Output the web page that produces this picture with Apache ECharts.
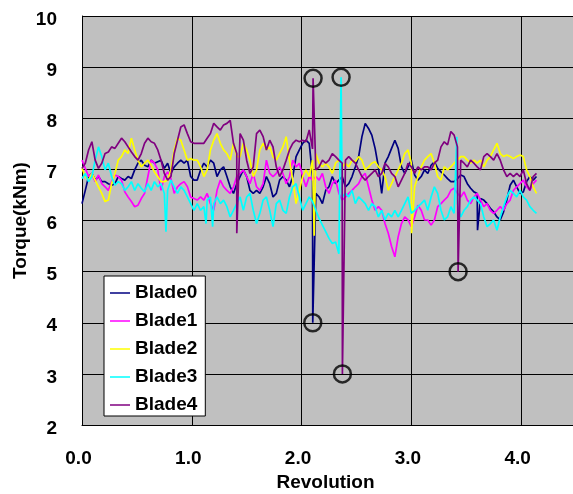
<!DOCTYPE html>
<html>
<head>
<meta charset="utf-8">
<script src="https://cdn.jsdelivr.net/npm/echarts/dist/echarts.min.js"></script>
<style>
html,body{margin:0;padding:0;background:#fff;}
#chart{width:573px;height:494px;}
</style>
</head>
<body>
<div id="chart"></div>
<script>
// ---- data ----
const seriesNames = ['Blade0', 'Blade1', 'Blade2', 'Blade3', 'Blade4'];
const xTickLabels = ['0.0', '1.0', '2.0', '3.0', '4.0'];
const yTickLabels = ['2', '3', '4', '5', '6', '7', '8', '9', '10'];
// sampling positions (revolution), every 0.03 rev from 0.00 to 4.14
const revStep = 0.03;
const revCount = 139;
const revs = Array.from({length: revCount}, (_, i) => +(i * revStep).toFixed(2));

const blade0 = [
6.33,6.59,6.86,6.92,6.79,6.86,6.76,6.76,6.72,6.69,
6.72,6.86,6.82,6.79,6.86,6.82,6.99,7.12,7.18,7.08,
7.05,7.18,7.12,7.15,7.18,7.02,7.12,6.92,7.05,7.12,
7.18,7.12,7.18,6.86,6.79,
6.79,6.99,7.12,7.05,7.18,7.12,6.86,6.99,7.05,6.86,
6.66,6.53,6.72,6.86,6.99,6.86,6.59,6.53,6.59,6.53,
6.66,6.86,6.72,6.46,6.53,6.79,6.86,6.79,6.66,6.86,
7.25,7.38,7.51,7.57,7.51,
6.86,6.53,6.46,6.33,6.59,6.66,6.86,6.72,6.79,6.86,
6.66,6.72,6.86,7.05,7.25,7.64,7.90,7.80,7.67,7.41,
7.05,6.53,7.12,7.25,7.41,7.57,7.41,7.05,6.92,7.05,
7.18,6.89,6.79,6.86,6.99,
6.92,7.08,7.15,7.02,6.95,6.89,6.82,6.76,6.76,6.82,
6.89,6.86,6.72,6.63,6.56,6.53,6.43,6.40,6.33,6.24,
6.17,6.07,6.01,6.17,6.40,6.69,6.79,6.66,6.53,6.56,
6.76,6.86,6.79,6.86];

const blade1 = [
7.18,7.02,6.86,6.92,6.76,6.89,6.72,6.66,6.59,6.76,
6.89,6.86,6.79,6.56,6.46,6.37,6.27,6.30,6.43,6.53,
6.86,7.18,7.12,6.99,6.59,6.86,6.95,6.82,6.53,6.66,
6.72,6.76,6.66,6.46,6.43,
6.40,6.46,6.40,6.53,6.33,6.20,6.59,6.79,6.66,6.59,
6.53,6.66,6.86,6.92,6.99,6.86,6.72,6.92,6.66,6.59,
6.72,7.18,6.92,6.86,6.92,7.05,6.92,6.72,6.86,7.18,
7.05,7.12,6.86,6.66,6.86,
6.79,6.86,6.79,6.92,6.66,6.53,6.72,6.79,6.53,6.40,
6.46,6.53,6.59,6.66,6.72,6.86,6.92,6.66,6.40,6.20,
6.27,6.20,5.94,5.75,5.49,5.29,5.68,5.94,6.07,6.01,
5.88,6.07,6.30,6.20,6.01,
6.01,5.91,6.01,6.27,6.33,6.40,6.46,6.59,6.63,6.53,
6.46,6.56,6.40,6.33,6.46,6.53,6.40,6.27,6.33,6.20,
6.14,6.20,6.27,6.20,6.33,6.40,6.59,6.66,6.72,6.79,
6.66,6.59,6.72,6.79];

const blade2 = [
7.02,6.86,6.79,6.92,6.79,6.66,6.53,6.37,6.40,6.72,
6.92,7.18,7.25,7.38,7.31,7.61,7.38,7.18,7.05,7.12,
7.18,7.08,6.95,6.86,6.76,6.76,6.79,6.99,7.38,7.61,
7.57,7.38,7.18,7.21,7.18,
7.18,7.05,6.86,6.99,7.38,7.57,7.70,7.51,7.38,7.31,
7.18,7.51,7.25,7.25,7.51,7.38,7.18,6.86,6.99,7.38,
7.51,7.38,7.44,7.25,7.18,7.31,7.44,7.64,7.18,6.79,
6.33,6.59,6.86,6.99,6.86,
7.18,7.31,7.12,7.05,7.12,7.05,6.92,7.12,7.18,7.05,
7.12,7.05,7.18,7.15,7.25,7.18,6.99,7.05,7.12,7.15,
7.05,6.99,6.86,6.59,6.72,6.86,6.99,7.12,7.31,7.38,
7.12,6.66,6.86,7.05,7.18,
7.25,7.31,7.12,6.86,6.79,7.05,6.99,7.05,7.12,7.18,
7.25,7.25,7.18,7.12,7.18,7.12,7.18,7.05,7.18,7.25,
7.38,7.51,7.31,7.25,7.28,7.25,7.21,7.25,7.28,7.25,
6.99,6.86,6.66,6.53];

const blade3 = [
6.82,6.92,6.76,6.86,7.18,7.44,7.25,6.99,7.12,6.86,
6.69,6.76,6.72,6.59,6.66,6.76,6.59,6.72,6.63,6.56,
6.72,6.59,6.76,6.66,6.72,6.53,6.59,6.79,6.66,6.53,
6.66,6.59,6.46,6.33,6.20,
6.33,6.20,6.27,6.40,6.46,6.33,6.46,6.33,6.40,6.27,
6.07,6.20,6.33,6.46,6.20,6.46,6.53,6.20,5.94,6.14,
6.40,6.46,6.20,5.88,6.33,6.40,6.20,6.14,6.46,6.66,
6.72,6.46,6.20,6.33,6.46,
6.37,6.20,6.04,5.91,5.78,5.65,5.55,5.58,5.35,6.46,
6.53,6.46,6.59,6.33,6.46,6.40,6.33,6.20,6.33,6.27,
6.07,6.20,6.01,6.14,6.07,6.20,6.07,6.20,6.33,6.46,
6.14,6.20,6.27,6.33,6.40,
6.20,6.46,6.66,6.53,6.20,6.01,6.07,6.27,6.14,6.33,
6.07,6.20,6.27,6.40,6.46,6.40,6.33,6.07,5.88,5.94,
6.01,5.81,6.07,6.27,6.46,6.59,6.53,6.46,6.59,6.46,
6.40,6.27,6.20,6.14];

const blade4 = [
7.02,7.12,7.38,7.54,7.18,7.02,7.12,7.31,7.34,7.44,
7.41,7.51,7.61,7.54,7.44,7.34,7.25,7.18,7.31,7.51,
7.61,7.54,7.51,7.38,7.18,6.92,6.79,6.86,7.31,7.57,
7.83,7.87,7.70,7.54,7.51,
7.51,7.51,7.51,7.61,7.70,7.90,7.83,7.77,7.87,7.90,
7.96,7.51,7.31,7.70,7.57,7.18,6.92,7.05,7.70,7.77,
7.64,7.38,7.57,7.44,7.05,6.86,6.99,7.18,7.38,7.51,
7.57,7.54,7.57,7.54,7.77,
7.40,6.99,7.05,7.18,7.12,7.18,7.31,7.25,7.18,7.12,
7.18,7.25,7.18,7.12,6.99,6.86,6.79,6.86,6.92,6.99,
6.86,6.92,7.12,7.05,6.92,6.86,6.66,6.79,6.92,7.12,
7.05,6.92,7.05,6.99,7.05,
7.05,6.99,7.12,7.18,7.44,7.54,7.48,7.74,7.67,7.44,
7.18,7.12,7.05,7.18,7.12,7.05,6.99,7.25,7.31,7.25,
7.18,7.31,7.18,6.99,6.86,6.92,6.86,6.92,6.86,6.99,
6.72,6.59,6.86,6.92];

// short spikes [revolution, torque]
const blade0Spikes = [[2.102, 4.0], [3.603, 5.81]];
const blade1Spikes = [];
const blade2Spikes = [[2.115, 5.7], [3.002, 5.75]];
const blade3Spikes = [[0.765, 5.78], [1.13, 5.94], [1.19, 5.88], [2.360, 8.8], [3.414, 7.64]];
const blade4Spikes = [[1.41, 5.75], [2.105, 8.78], [2.372, 3.0], [3.426, 5.0]];

// circled outliers [revolution, torque]
const circledX = [2.105, 2.360, 2.102, 2.372, 3.426];
const circledY = [8.78, 8.8, 4.0, 3.0, 5.0];

const seriesColors = ['#000080', '#FF00FF', '#FFFF00', '#00FFFF', '#800080'];

// ---- build ----
function build(values, spikes) {
  const pts = revs.map((r, i) => [r, values[i]]);
  spikes.forEach(s => pts.push([s[0], s[1]]));
  pts.sort((a, b) => a[0] - b[0]);
  return pts;
}
const allValues = [blade0, blade1, blade2, blade3, blade4];
const allSpikes = [blade0Spikes, blade1Spikes, blade2Spikes, blade3Spikes, blade4Spikes];

const font = 'Liberation Sans, Arial, sans-serif';
const chart = echarts.init(document.getElementById('chart'));

const series = seriesNames.map((name, i) => ({
  name: name,
  type: 'line',
  data: build(allValues[i], allSpikes[i]),
  showSymbol: false,
  symbol: 'none',
  lineStyle: {color: seriesColors[i], width: 1.7},
  itemStyle: {color: seriesColors[i]},
  animation: false,
  z: 2 + i
}));
series.push({
  name: 'circles',
  type: 'scatter',
  data: circledX.map((x, i) => [x, circledY[i]]),
  symbol: 'circle',
  symbolSize: 17,
  itemStyle: {color: 'rgba(0,0,0,0)', borderColor: '#000', borderWidth: 2.5},
  z: 10,
  animation: false
});

chart.setOption({
  animation: false,
  backgroundColor: '#fff',
  grid: {left: 82, top: 16, right: -3, bottom: 69, show: true, backgroundColor: '#C0C0C0', borderWidth: 0,
         containLabel: false, outerBoundsMode: 'none'},
  legend: {
    data: seriesNames,
    orient: 'vertical',
    left: 104,
    top: 276,
    backgroundColor: '#fff',
    borderColor: '#000',
    borderWidth: 1,
    borderRadius: 0,
    padding: [7, 8, 1, 6],
    itemGap: 8,
    itemWidth: 20,
    itemHeight: 1.5,
    icon: 'rect',
    textStyle: {fontFamily: font, fontWeight: 'bold', fontSize: 19, lineHeight: 20, color: '#000'}
  },
  xAxis: {
    type: 'value',
    min: 0,
    max: 4.5,
    interval: 1,
    name: 'Revolution',
    nameLocation: 'middle',
    nameGap: 48,
    nameMoveOverlap: false,
    nameTextStyle: {fontFamily: font, fontWeight: 'bold', fontSize: 19, color: '#000', padding: [0, 7, 0, 0]},
    axisLine: {show: true, lineStyle: {color: '#000', width: 1}},
    axisTick: {show: false},
    splitLine: {show: true, lineStyle: {color: '#000', width: 1}},
    axisLabel: {
      showMaxLabel: false,
      margin: 24,
      padding: [0, 7, 0, 0],
      fontFamily: font, fontWeight: 'bold', fontSize: 19, color: '#000',
      formatter: v => xTickLabels[Math.round(v)] || ''
    }
  },
  yAxis: {
    type: 'value',
    min: 2,
    max: 10,
    interval: 1,
    name: 'Torque(kNm)',
    nameLocation: 'middle',
    nameGap: 52,
    nameMoveOverlap: false,
    nameTextStyle: {fontFamily: font, fontWeight: 'bold', fontSize: 19, color: '#000'},
    axisLine: {show: true, lineStyle: {color: '#000', width: 1}},
    axisTick: {show: false},
    splitLine: {show: true, lineStyle: {color: '#000', width: 1}},
    axisLabel: {
      margin: 25,
      verticalAlign: 'top',
      lineHeight: 7,
      fontFamily: font, fontWeight: 'bold', fontSize: 19, color: '#000',
      formatter: v => yTickLabels[Math.round(v) - 2] || ''
    }
  },
  series: series
});
</script>
</body>
</html>
